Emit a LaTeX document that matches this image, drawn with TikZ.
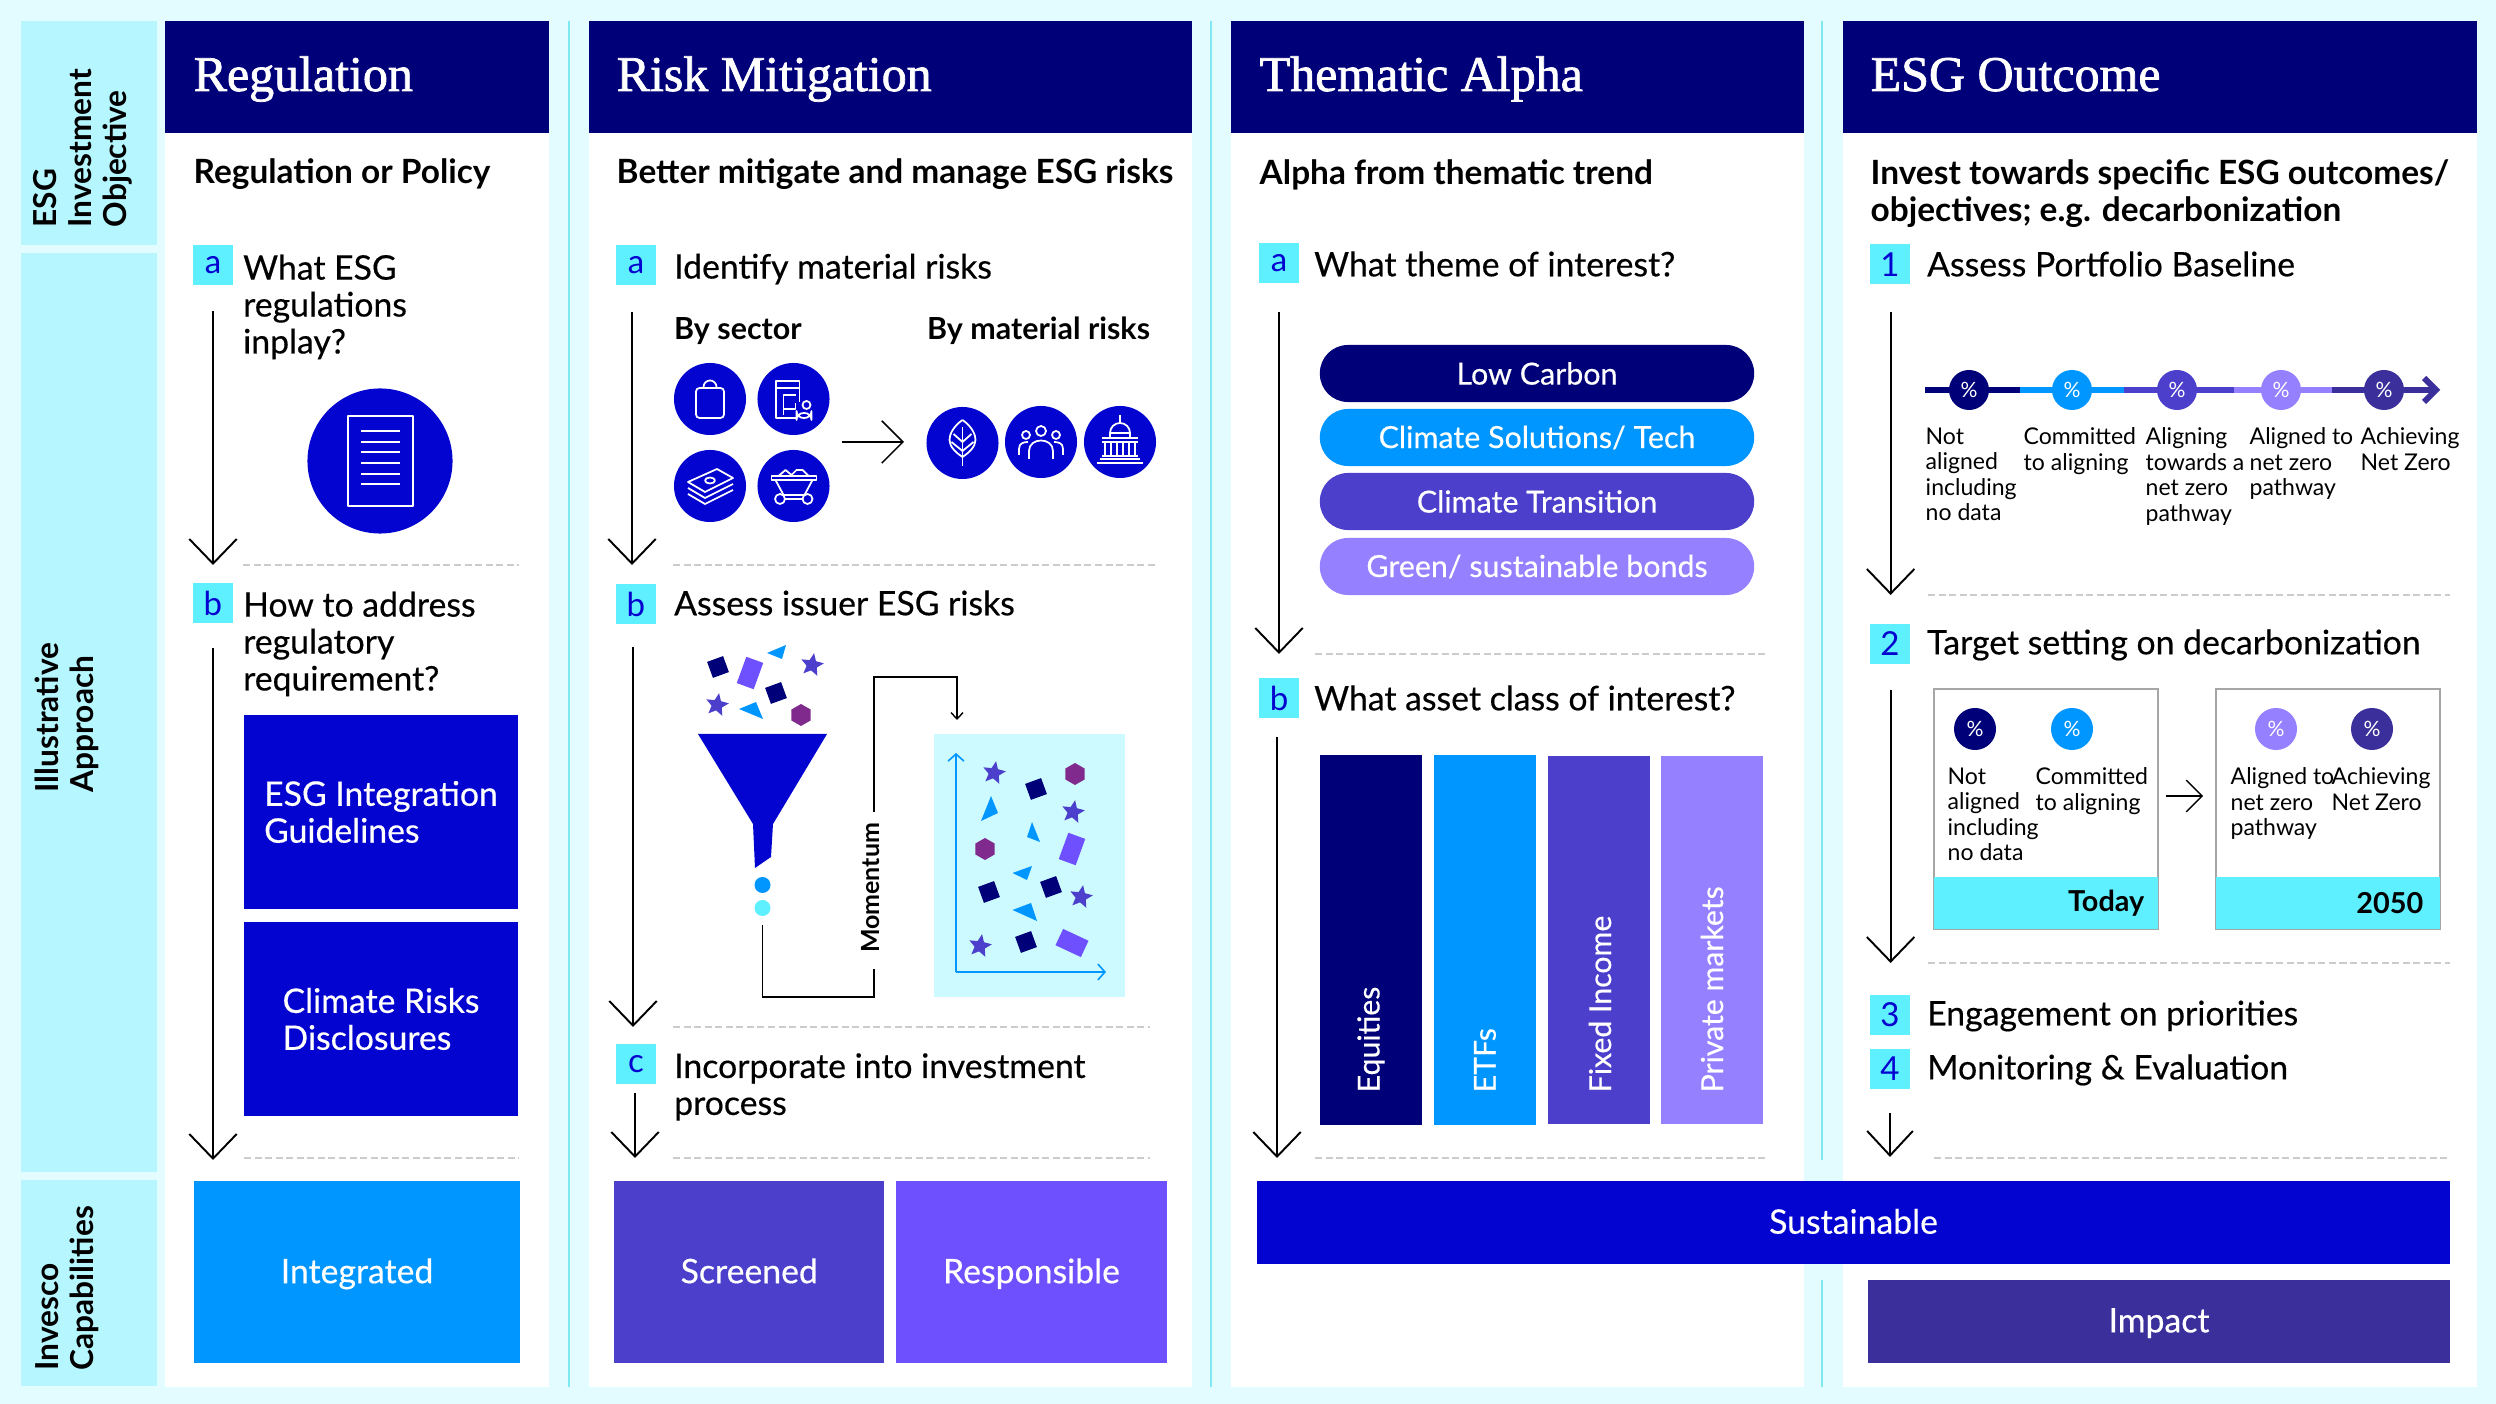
\documentclass[tikz,border=0pt]{standalone}
\usepackage{xcolor}
\usepackage{fontspec}
\setmainfont{Lato}
\newfontfamily\titlefont{Liberation Serif}[FakeBold=1.5]
\newfontfamily\medfont{Lato}[FakeBold=0.4]
\usetikzlibrary{arrows.meta,shapes.geometric}
\definecolor{bgcol}{HTML}{E3FCFF}
\definecolor{sidecol}{HTML}{B5F6FF}
\definecolor{navycol}{HTML}{000078}
\definecolor{bluecol}{HTML}{0404D0}
\definecolor{skycol}{HTML}{0096FF}
\definecolor{indigocol}{HTML}{4B3FCB}
\definecolor{violetcol}{HTML}{6E50FF}
\definecolor{lilaccol}{HTML}{9580FF}
\definecolor{darkcol}{HTML}{3B309B}
\definecolor{cyancol}{HTML}{5FF0FF}
\definecolor{panelcol}{HTML}{CCFAFF}
\definecolor{plumcol}{HTML}{7F2A8C}
\definecolor{rulecol}{HTML}{7FE8F0}
\tikzset{
	sidelabel/.style={rotate=90,anchor=west,align=left,inner sep=0pt,font=\fontsize{9}{9.9}\selectfont\bfseries},
	headtitle/.style={anchor=base west,inner sep=0pt,white,font=\fontsize{14.2}{15}\selectfont\titlefont},
	subhead/.style={anchor=west,align=left,inner sep=0pt,font=\fontsize{9.5}{10.5}\selectfont\bfseries},
	bodytext/.style={anchor=west,align=left,inner sep=0pt,xshift=-0.015cm,font=\fontsize{9.6}{10.5}\selectfont\medfont},
	smalltext/.style={anchor=north west,align=left,inner sep=0pt,font=\fontsize{6.55}{7.25}\selectfont},
	badge/.style={fill=cyancol,text=bluecol,minimum size=0.4cm,inner sep=0pt,font=\fontsize{9.4}{10}\selectfont},
	bluebox/.style={text=white,align=left,inner sep=0pt,font=\fontsize{9.6}{10.5}\selectfont\medfont},
	capbox/.style={bluebox,text depth=0.7pt},
	pill/.style={text=white,inner sep=0pt,minimum width=4.34cm,minimum height=0.57cm,rounded corners=0.28cm,font=\fontsize{8.65}{10}\selectfont\medfont},
	barlabel/.style={rotate=90,anchor=west,text=white,inner sep=0pt,font=\fontsize{8.6}{10}\selectfont\medfont},
	bylabel/.style={anchor=base west,inner sep=0pt,xshift=-0.015cm,font=\fontsize{8.65}{10}\selectfont\bfseries},
	iconcircle/.style={circle,fill=bluecol,minimum size=0.72cm,inner sep=0pt},
	pctdot/.style={circle,text=white,minimum size=0.4cm,inner sep=0pt,font=\fontsize{6}{7}\selectfont},
	stepline/.style={line width=0.55pt,-{Straight Barb[length=7pt,width=13.5pt]}},
	smallstep/.style={line width=0.45pt,-{Straight Barb[length=6pt,width=11pt]}},
	sepline/.style={gray!40,line width=0.4pt,dash pattern=on 2pt off 1pt},
	iconline/.style={white,line width=0.5pt,line join=round},
	starbit/.style={star,star points=5,star point ratio=2.2,fill=indigocol,minimum size=0.24cm,inner sep=0pt,rotate=-10},
	hexbit/.style={regular polygon,regular polygon sides=6,shape border rotate=30,fill=plumcol,minimum size=0.22cm,inner sep=0pt},
}
\begin{document}
\begin{tikzpicture}[x=0.01cm,y=-0.01cm]
\useasboundingbox (0,0) rectangle (2496,1404);
\fill[bgcol] (0,0) rectangle (2496,1404);
% side bands
\fill[sidecol] (21,21) rectangle (157,245);
\fill[sidecol] (21,253) rectangle (157,1172);
\fill[sidecol] (21,1180) rectangle (157,1386);
\node[sidelabel] (sideEsg) at(83,228){ESG\\Investment\\Objective};
\node[sidelabel] (sideApp) at(67,793){Illustrative\\Approach};
\node[sidelabel] (sideCap) at(67,1371){Invesco\\Capabilities};
% columns
\fill[white] (165,21) rectangle (549,1387);
\fill[white] (589,21) rectangle (1192,1387);
\fill[white] (1231,21) rectangle (1804,1387);
\fill[white] (1843,21) rectangle (2477,1387);
\draw[rulecol,line width=0.3pt] (569,21)--(569,1387);
\draw[rulecol,line width=0.3pt] (1211,21)--(1211,1387);
\draw[rulecol,line width=0.3pt] (1822,21)--(1822,1160) (1822,1280)--(1822,1387);
\fill[navycol] (165,21) rectangle (549,133);
\fill[navycol] (589,21) rectangle (1192,133);
\fill[navycol] (1231,21) rectangle (1804,133);
\fill[navycol] (1843,21) rectangle (2477,133);
\node[headtitle] (regTitle) at(193,91){Regulation};
\node[headtitle] (riskTitle) at(616,91){Risk Mitigation};
\node[headtitle] (themeTitle) at(1259,91){Thematic Alpha};
\node[headtitle] (outTitle) at(1870,91){ESG Outcome};
\node[subhead] (regSub) at(193,174.5){Regulation or Policy};
\node[subhead] (riskSub) at(616,174.5){Better mitigate and manage ESG risks};
\node[subhead] (themeSub) at(1259,174.5){Alpha from thematic trend};
\node[subhead] (outSub) at(1870,194){Invest towards specific ESG outcomes/\\objectives; e.g. decarbonization};
% regulation column
\node[badge] (regA) at(213,265){a};
\node[bodytext] (regAtext) at(244,307){What ESG\\regulations\\inplay?};
\coordinate (regAs) at(213,311);
\coordinate (regAe) at(213,565);
\draw[stepline] (regAs)--(regAe);
\node[iconcircle,minimum size=1.45cm] (docIcon) at(380,461){};
\draw[iconline] (348,416) rectangle (413,506);
\foreach \y in {431,442,452,463,474,484} \draw[iconline] (361,\y)--(400,\y);
\draw[sepline] (243,565)--(519,565);
\node[badge] (regB) at(213,603){b};
\node[bodytext] (regBtext) at(244,644){How to address\\regulatory\\requirement?};
\coordinate (regBs) at(213,648);
\coordinate (regBe) at(213,1160);
\draw[stepline] (regBs)--(regBe);
\node[bluebox,fill=bluecol,minimum width=2.74cm,minimum height=1.94cm] (esgGuide) at(381,812){ESG Integration\\Guidelines};
\node[bluebox,fill=bluecol,minimum width=2.74cm,minimum height=1.94cm] (climDisc) at(381,1019){Climate Risks\\Disclosures};
\draw[sepline] (244,1158)--(519,1158);
\node[capbox,fill=skycol,minimum width=3.26cm,minimum height=1.82cm] (capInt) at(357,1272){Integrated};
% risk column
\node[badge] (riskA) at(636,265){a};
\node[bodytext] (riskAtext) at(675,269){Identify material risks};
\coordinate (riskAs) at(632,312);
\coordinate (riskAe) at(632,565);
\draw[stepline] (riskAs)--(riskAe);
\node[bylabel] (bySector) at(675,340){By sector};
\node[bylabel] (byRisks) at(928,340){By material risks};
\node[iconcircle] (bagIcon) at(710,399){};
\node[iconcircle] (drugIcon) at(793.5,399){};
\node[iconcircle] (cashIcon) at(710,486){};
\node[iconcircle] (cartIcon) at(793.5,486){};
\node[iconcircle] (leafIcon) at(962.5,443){};
\node[iconcircle] (peopleIcon) at(1041,442){};
\node[iconcircle] (capitolIcon) at(1120,442){};
\coordinate (sectorOut) at(842,442);
\coordinate (riskIn) at(904,442);
\draw[smallstep,-{Straight Barb[length=6pt,width=12pt]}] (sectorOut)--(riskIn);
\begin{scope}[shift={(710,399)},iconline]
\draw[rounded corners=1pt] (-14,-11) rectangle (14,19);
\draw (-6.5,-11)--(-6.5,-12) arc[start angle=180,end angle=360,radius=6.5]--(6.5,-11);
\end{scope}
\begin{scope}[shift={(793.5,399)},iconline]
\draw (-17.5,-18) rectangle (6,-11);
\draw (-17.5,-11)--(-17.5,19)--(2,19) (6,-11)--(6,3);
\draw (-10,16)--(-10,-4)--(2,-4) (-10,10)--(2,10)--(2,4);
\draw[rounded corners=2pt] (3,14) rectangle (18,19);
\draw (13,6) circle[radius=4];
\end{scope}
\begin{scope}[shift={(710,486)},iconline]
\draw (-22,-4)--(7,-17)--(23,-8)--(-5,6)--cycle;
\draw (0,-5.5) ellipse[x radius=5,y radius=3];
\draw (-22,2)--(-5,12)--(23,-2);
\draw (-22,8)--(-5,18)--(23,4);
\end{scope}
\begin{scope}[shift={(793.5,486)},iconline]
\draw (-22,-10) rectangle (23,-6);
\draw (-18,-6)--(-10,9)--(11,9)--(19,-6);
\draw (-13.5,13) circle[radius=5] (14,13) circle[radius=5];
\draw (-8.5,13)--(9,13);
\draw (-15,-10)--(-8,-16)--(-2,-11)--(3,-16)--(9,-16)--(15,-10);
\end{scope}
\begin{scope}[shift={(962.5,443)},iconline]
\draw (0,-23) .. controls (10,-16) and (13,-8) .. (13,-3) .. controls (13,4) and (6,10) .. (0,14) .. controls (-6,10) and (-13,4) .. (-13,-3) .. controls (-13,-8) and (-10,-16) .. (0,-23);
\draw (0,-16)--(0,23);
\draw (-9,-9)--(0,-1)--(9,-9) (-11,-1)--(0,8)--(11,-1);
\end{scope}
\begin{scope}[shift={(1041,442)},iconline]
\draw (0,-11) circle[radius=5] (-15,-7) circle[radius=4] (15,-7) circle[radius=4];
\draw (-12,17)--(-12,9) .. controls (-12,-5) and (12,-5) .. (12,9)--(12,17);
\draw (-22,13)--(-22,7) .. controls (-22,1) and (-17,0) .. (-13,0);
\draw (22,13)--(22,7) .. controls (22,1) and (17,0) .. (13,0);
\end{scope}
\begin{scope}[shift={(1120,442)},iconline]
\draw (-23,21)--(23,21) (-20,17)--(20,17) (-18,-4)--(18,-4) (-18,0)--(18,0) (-18,14)--(18,14);
\foreach \x in {-15,-9,-3,3,9,15} \draw (\x,0)--(\x,14);
\draw (-10,-4)--(-10,-9) arc[start angle=180,end angle=360,radius=10]--(10,-4);
\draw (-10,-9)--(10,-9);
\draw (0,-19)--(0,-27);
\end{scope}
\draw[sepline] (673,565)--(1157,565);
\node[badge] (riskB) at(636,604){b};
\node[bodytext] (riskBtext) at(675,603){Assess issuer ESG risks};
\coordinate (riskBs) at(633,647);
\coordinate (riskBe) at(633,1027);
\draw[stepline] (riskBs)--(riskBe);
% funnel and the bits around it
\fill[bluecol] (698,734)--(827,734)--(773,824)--(771,857)--(755,868)--(753,824)--cycle;
\node[circle,fill=skycol,minimum size=0.16cm,inner sep=0pt] (dotSky) at(762.5,885){};
\node[circle,fill=cyancol,minimum size=0.16cm,inner sep=0pt] (dotCyan) at(762.5,908){};
\fill[panelcol] (933.5,734) rectangle (1125,997);
\coordinate (axisO) at(956,972);
\coordinate (axisY) at(956,753);
\coordinate (axisX) at(1106,972);
\draw[skycol,line width=0.45pt,-{Straight Barb[length=2pt,width=4.5pt]}] (axisO)--(axisY);
\draw[skycol,line width=0.45pt,-{Straight Barb[length=2pt,width=4.5pt]}] (axisO)--(axisX);
\foreach \px/\py [count=\i] in {812/665,717/705,994/773,1073/812,1081/897,980/946}
	\node[starbit] (bitS\i) at(\px,\py){};
\foreach \px/\py [count=\i] in {801/715,1075/774,985/849}
	\node[hexbit] (bitH\i) at(\px,\py){};
\foreach \px/\py in {718/667,776/693,1036/789,989/892,1051/887,1026/942}
	\fill[navycol,shift={(\px,\py)},rotate=20] (-8.5,-8.5) rectangle (8.5,8.5);
\foreach \px/\py in {750/673,1072/849}
	\fill[violetcol,shift={(\px,\py)},rotate=-20] (-9,-14) rectangle (9,14);
\fill[violetcol,shift={(1072,943)},rotate=-25] (-14,-9) rectangle (14,9);
\fill[skycol] (767,653)--(786,645)--(782,659)--cycle;
\fill[skycol] (739,709)--(756,702)--(763,719)--cycle;
\fill[skycol] (991,796)--(998,813)--(981,821)--cycle;
\fill[skycol] (1032,822)--(1040,842)--(1027,837)--cycle;
\fill[skycol] (1012.5,873)--(1032,866)--(1027,880)--cycle;
\fill[skycol] (1012.5,910)--(1031,903)--(1037,921)--cycle;
\node[anchor=center,rotate=90,inner sep=0pt,font=\fontsize{7.1}{10}\selectfont\bfseries] (momLabel) at(871,888){Momentum};
\coordinate (momA) at(874,969);
\coordinate (momB) at(874,812);
\coordinate (momEnd) at(957,720);
\coordinate (dotOut) at(762.5,925);
\draw[line width=0.4pt] (dotOut)--(762.5,997)--(874,997)--(momA);
\draw[line width=0.4pt,-{Straight Barb[length=1.8pt,width=3.4pt]}] (momB)--(874,677)--(957,677)--(momEnd);
\draw[sepline] (673,1027)--(1150,1027);
\node[badge] (riskC) at(636,1064){c};
\node[bodytext] (riskCtext) at(675,1087){Incorporate into investment\\process};
\coordinate (riskCs) at(635,1093);
\coordinate (riskCe) at(635,1158);
\draw[stepline] (riskCs)--(riskCe);
\draw[sepline] (673,1158)--(1150,1158);
\node[capbox,fill=indigocol,minimum width=2.695cm,minimum height=1.82cm] (capScr) at(749.25,1272){Screened};
\node[capbox,fill=violetcol,minimum width=2.71cm,minimum height=1.82cm] (capResp) at(1031.5,1272){Responsible};
% thematic column
\node[badge] (themeA) at(1279,263){a};
\node[bodytext] (themeAtext) at(1315,264){What theme of interest?};
\coordinate (themeAs) at(1279,312);
\coordinate (themeAe) at(1279,654);
\draw[stepline] (themeAs)--(themeAe);
\node[pill,fill=navycol] (pillLow) at(1537,373.5){Low Carbon};
\node[pill,fill=skycol] (pillSol) at(1537,437.5){Climate Solutions/ Tech};
\node[pill,fill=indigocol] (pillTra) at(1537,501.5){Climate Transition};
\node[pill,fill=lilaccol] (pillGre) at(1537,566.5){Green/ sustainable bonds};
\draw[sepline] (1315,654)--(1768,654);
\node[badge] (themeB) at(1279,698){b};
\node[bodytext] (themeBtext) at(1315,698){What asset class of interest?};
\coordinate (themeBs) at(1277,737);
\coordinate (themeBe) at(1277,1158);
\draw[stepline] (themeBs)--(themeBe);
\fill[navycol] (1320,755) rectangle (1421.5,1125);
\fill[skycol] (1434,755) rectangle (1536,1125);
\fill[indigocol] (1548,756) rectangle (1650,1124);
\fill[lilaccol] (1661,756) rectangle (1763,1124);
\node[barlabel] (barEq) at(1371,1093){Equities};
\node[barlabel] (barEtf) at(1485,1093){ETFs};
\node[barlabel] (barFi) at(1600,1093){Fixed Income};
\node[barlabel] (barPm) at(1712,1093){Private markets};
\draw[sepline] (1315,1158)--(1768,1158);
% outcome column
\node[badge] (outOne) at(1890,264.5){1};
\node[bodytext] (outOnetext) at(1928,264){Assess Portfolio Baseline};
\coordinate (outOnes) at(1890.6,312);
\coordinate (outOnee) at(1890.6,595);
\draw[stepline] (outOnes)--(outOnee);
\draw[navycol,line width=1.7pt] (1925,390)--(2020,390);
\draw[skycol,line width=1.7pt] (2020,390)--(2124,390);
\draw[indigocol,line width=1.7pt] (2124,390)--(2234,390);
\draw[lilaccol,line width=1.7pt] (2234,390)--(2332,390);
\draw[darkcol,line width=1.7pt] (2332,390)--(2434,390);
\draw[darkcol,line width=1.7pt] (2424,378)--(2436,390)--(2424,402);
\node[pctdot,fill=navycol] (stageNot) at(1969,390){\%};
\node[pctdot,fill=skycol] (stageCom) at(2072,390){\%};
\node[pctdot,fill=indigocol] (stageAli) at(2177,390){\%};
\node[pctdot,fill=lilaccol] (stageAto) at(2281,390){\%};
\node[pctdot,fill=darkcol] (stageAch) at(2384,390){\%};
\node[smalltext] (txtNot) at(1925,427){Not\\aligned\\including\\no data};
\node[smalltext] (txtCom) at(2023,427){Committed\\to aligning};
\node[smalltext] (txtAli) at(2145,427){Aligning\\towards a\\net zero\\pathway};
\node[smalltext] (txtAto) at(2249,427){Aligned to\\net zero\\pathway};
\node[smalltext] (txtAch) at(2360,427){Achieving\\Net Zero};
\draw[sepline] (1928,595)--(2450,595);
\node[badge] (outTwo) at(1890,644){2};
\node[bodytext] (outTwotext) at(1928,645){Target setting on decarbonization};
\coordinate (outTwos) at(1890.6,690);
\coordinate (outTwoe) at(1890.6,963);
\draw[stepline] (outTwos)--(outTwoe);
\draw[gray!70,line width=0.4pt] (1934,689) rectangle (2158,929);
\draw[gray!70,line width=0.4pt] (2216,689) rectangle (2440,929);
\fill[cyancol] (1934,877) rectangle (2158,929);
\fill[cyancol] (2216,877) rectangle (2440,929);
\node[pctdot,fill=navycol,minimum size=0.42cm] (todayNot) at(1975,729){\%};
\node[pctdot,fill=skycol,minimum size=0.42cm] (todayCom) at(2072,729){\%};
\node[pctdot,fill=lilaccol,minimum size=0.42cm] (laterAto) at(2276,729){\%};
\node[pctdot,fill=darkcol,minimum size=0.42cm] (laterAch) at(2372,729){\%};
\node[smalltext] (boxNot) at(1947,767){Not\\aligned\\including\\no data};
\node[smalltext] (boxCom) at(2035,767){Committed\\to aligning};
\node[smalltext] (boxAto) at(2230,767){Aligned to\\net zero\\pathway};
\node[smalltext] (boxAch) at(2331,767){Achieving\\Net Zero};
\node[anchor=east,inner sep=0pt,font=\fontsize{8.2}{10}\selectfont\bfseries] (todayLabel) at(2145,903){Today};
\node[anchor=east,inner sep=0pt,font=\fontsize{8.2}{10}\selectfont\bfseries] (laterLabel) at(2424,903){2050};
\coordinate (todayOut) at(2166,796);
\coordinate (laterIn) at(2203,796);
\draw[line width=0.4pt,-{Straight Barb[length=4.5pt,width=9pt]}] (todayOut)--(laterIn);
\draw[sepline] (1928,963)--(2450,963);
\node[badge] (outThree) at(1890,1015){3};
\node[bodytext] (outThreetext) at(1928,1016){Engagement on priorities};
\node[badge] (outFour) at(1890,1069){4};
\node[bodytext] (outFourtext) at(1928,1070){Monitoring \& Evaluation};
\coordinate (outFours) at(1890,1113);
\coordinate (outFoure) at(1890,1157);
\draw[stepline,-{Straight Barb[length=7pt,width=13pt]}] (outFours)--(outFoure);
\draw[sepline] (1934,1158)--(2450,1158);
% capabilities
\node[capbox,fill=bluecol,minimum width=11.93cm,minimum height=0.83cm] (capSus) at(1853.5,1222.5){Sustainable};
\node[capbox,fill=darkcol,minimum width=5.82cm,minimum height=0.83cm] (capImp) at(2159,1321.5){Impact};
\end{tikzpicture}
\end{document}
